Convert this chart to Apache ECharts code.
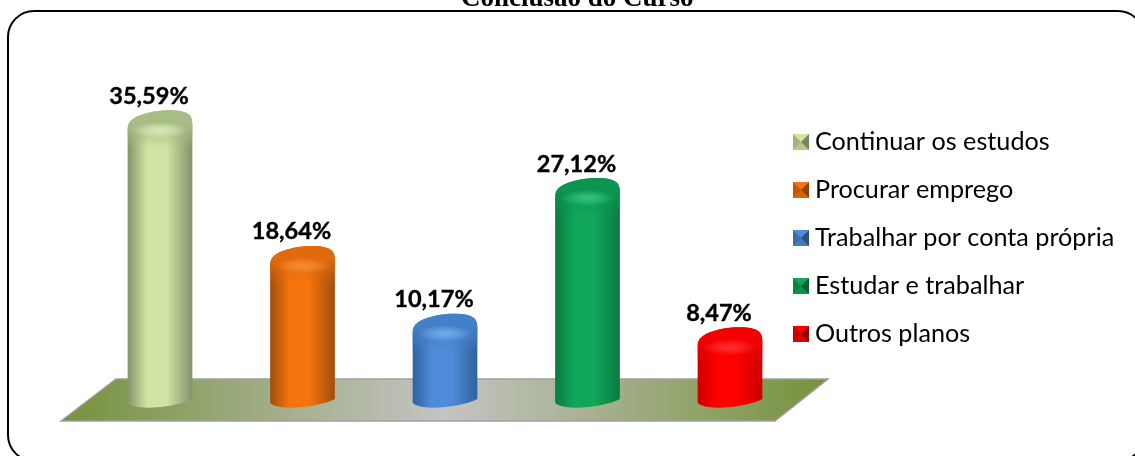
<!DOCTYPE html>
<html>
<head>
<meta charset="utf-8">
<script src="https://cdn.jsdelivr.net/npm/echarts@6/dist/echarts.min.js"></script>
<style>
html, body { margin: 0; padding: 0; background: #fff; }
#chart { width: 1135px; height: 456px; }
</style>
</head>
<body>
<div id="chart"></div>
<script>
var categories = ['Continuar os estudos', 'Procurar emprego', 'Trabalhar por conta própria', 'Estudar e trabalhar', 'Outros planos'];
var percents = [35.59, 18.64, 10.17, 27.12, 8.47];
var edgeColors = ['#84936a', '#a04e0a', '#2f639f', '#0a7a40', '#cc0000'];
var midColors = ['#d0e4a4', '#f5740e', '#4f8bd8', '#10a75a', '#ff0000'];
var capColors = ['#a8bc86', '#e06a0c', '#4480c8', '#0c9450', '#f40000'];
var capLights = ['#d8eab8', '#f88c34', '#74aaf0', '#34c47c', '#ff3030'];

function domePath(x, y, r) {
    return 'M' + (x - r) + ' ' + (y + 19) +
        'C' + (x - r) + ' ' + (y + 10) + ' ' + (x - r * 0.8) + ' ' + (y + 6) + ' ' + (x - r * 0.3) + ' ' + (y + 2) +
        'C' + (x - r * 0.1) + ' ' + (y + 0.5) + ' ' + (x + r * 0.1) + ' ' + y + ' ' + (x + r * 0.3) + ' ' + y +
        'C' + (x + r * 0.55) + ' ' + y + ' ' + (x + r * 0.8) + ' ' + (y + 1) + ' ' + (x + r * 0.92) + ' ' + (y + 5) +
        'Q' + (x + r) + ' ' + (y + 8) + ' ' + (x + r) + ' ' + (y + 15);
}

function cylinder(params, api) {
    var s = params.seriesIndex;
    var top = api.coord([s, api.value(1)]);
    var base = api.coord([s, 0]);
    var r = api.size([1, 0])[0] * 0.227;
    var x = top[0], y = top[1], b = base[1];
    var body = domePath(x, y, r) +
        'L' + (x + r) + ' ' + (b + 4) +
        'C' + (x + r * 0.6) + ' ' + (b + 11) + ' ' + (x - r * 0.5) + ' ' + (b + 16) + ' ' + (x - r * 0.9) + ' ' + (b + 10) +
        'Q' + (x - r) + ' ' + (b + 9) + ' ' + (x - r) + ' ' + (b + 7) + 'Z';
    var cap = domePath(x, y, r) +
        'L' + (x + r) + ' ' + (y + 38) + 'L' + (x - r) + ' ' + (y + 38) + 'Z';
    return {
        type: 'group',
        children: [{
            type: 'path',
            shape: { pathData: body },
            style: {
                fill: {
                    type: 'linear', x: 0, y: 0, x2: 1, y2: 0,
                    colorStops: [
                        { offset: 0, color: edgeColors[s] },
                        { offset: 0.3, color: midColors[s] },
                        { offset: 0.6, color: midColors[s] },
                        { offset: 1, color: edgeColors[s] }
                    ]
                }
            }
        }, {
            type: 'path',
            shape: { pathData: cap },
            style: {
                fill: {
                    type: 'linear', x: 0, y: 0, x2: 0, y2: 1,
                    colorStops: [
                        { offset: 0, color: capColors[s] },
                        { offset: 0.35, color: capColors[s] },
                        { offset: 1, color: echarts.color.modifyAlpha(capColors[s], 0) }
                    ]
                }
            }
        }, {
            type: 'circle',
            x: x,
            y: y + 20,
            scaleY: 0.3,
            shape: { cx: 0, cy: 0, r: r * 0.85 },
            style: {
                fill: {
                    type: 'radial', x: 0.5, y: 0.5, r: 0.5,
                    colorStops: [
                        { offset: 0, color: capLights[s] },
                        { offset: 0.5, color: echarts.color.modifyAlpha(capLights[s], 0.6) },
                        { offset: 1, color: echarts.color.modifyAlpha(capLights[s], 0) }
                    ]
                }
            }
        }, {
            type: 'text',
            style: {
                text: api.value(1).toFixed(2).replace('.', ',') + '%',
                x: x - 11,
                y: y - 14,
                align: 'center',
                verticalAlign: 'middle',
                fill: '#000',
                stroke: '#000',
                lineWidth: 0.4,
                font: 'bold 23.5px Lato'
            }
        }]
    };
}

var seriesList = categories.map(function (name, i) {
    return {
        name: name,
        type: 'custom',
        coordinateSystem: 'cartesian2d',
        renderItem: cylinder,
        itemStyle: { color: midColors[i] },
        encode: { x: 0, y: 1 },
        data: [[i, percents[i]]],
        z: 5
    };
});

var chart = echarts.init(document.getElementById('chart'), null, { renderer: 'canvas' });

// marcador do legend com chanfro
var bevels = [];
categories.forEach(function (name, i) {
    var x0 = 793, y0 = 134 + i * 48, w = 16, h = 16;
    var cx = x0 + w / 2, cy = y0 + h / 2;
    bevels.push({ type: 'polygon', shape: { points: [[x0 + w, y0], [x0 + w, y0 + h], [cx, cy]] }, style: { fill: 'rgba(0,0,0,0.42)' }, z: 20 });
    bevels.push({ type: 'polygon', shape: { points: [[x0, y0], [x0, y0 + h], [cx, cy]] }, style: { fill: 'rgba(0,0,0,0.22)' }, z: 20 });
    bevels.push({ type: 'polygon', shape: { points: [[x0, y0 + h], [x0 + w, y0 + h], [cx, cy]] }, style: { fill: 'rgba(0,0,0,0.12)' }, z: 20 });
});

var option = {
    animation: false,
    title: {
        text: 'Conclusão do Curso',
        left: 456,
        top: -19,
        textStyle: { fontFamily: 'Liberation Serif', fontWeight: 'bold', fontSize: 27, color: '#000' }
    },
    grid: { left: 88.75, width: 712.5, top: 75, height: 320 },
    xAxis: { type: 'category', data: categories, show: false },
    yAxis: { type: 'value', min: 0, max: 40, show: false },
    legend: {
        orient: 'vertical',
        left: 793,
        top: 127,
        padding: 0,
        itemWidth: 16,
        itemHeight: 16,
        itemGap: 18,
        icon: 'rect',
        data: categories,
        selectedMode: false,
        textStyle: { fontFamily: 'Lato', fontSize: 25.2, color: '#000', height: 30, lineHeight: 30, padding: [0, 0, 0, 1] }
    },
    graphic: [{
        type: 'rect',
        shape: { x: 8, y: 11, width: 1136, height: 450, r: 26 },
        style: { fill: 'none', stroke: '#000', lineWidth: 2 },
        z: 1
    }, {
        type: 'polygon',
        shape: { points: [[61, 421], [116, 379], [828, 379], [775, 421]] },
        style: {
            stroke: '#a0a0a0',
            lineWidth: 1.5,
            fill: {
                type: 'linear', x: 0, y: 0, x2: 1, y2: 0,
                colorStops: [
                    { offset: 0, color: '#76923c' },
                    { offset: 0.5, color: '#c4c4c4' },
                    { offset: 1, color: '#76923c' }
                ]
            }
        },
        z: 2
    }].concat(bevels),
    series: seriesList
};
chart.setOption(option);
</script>
</body>
</html>
